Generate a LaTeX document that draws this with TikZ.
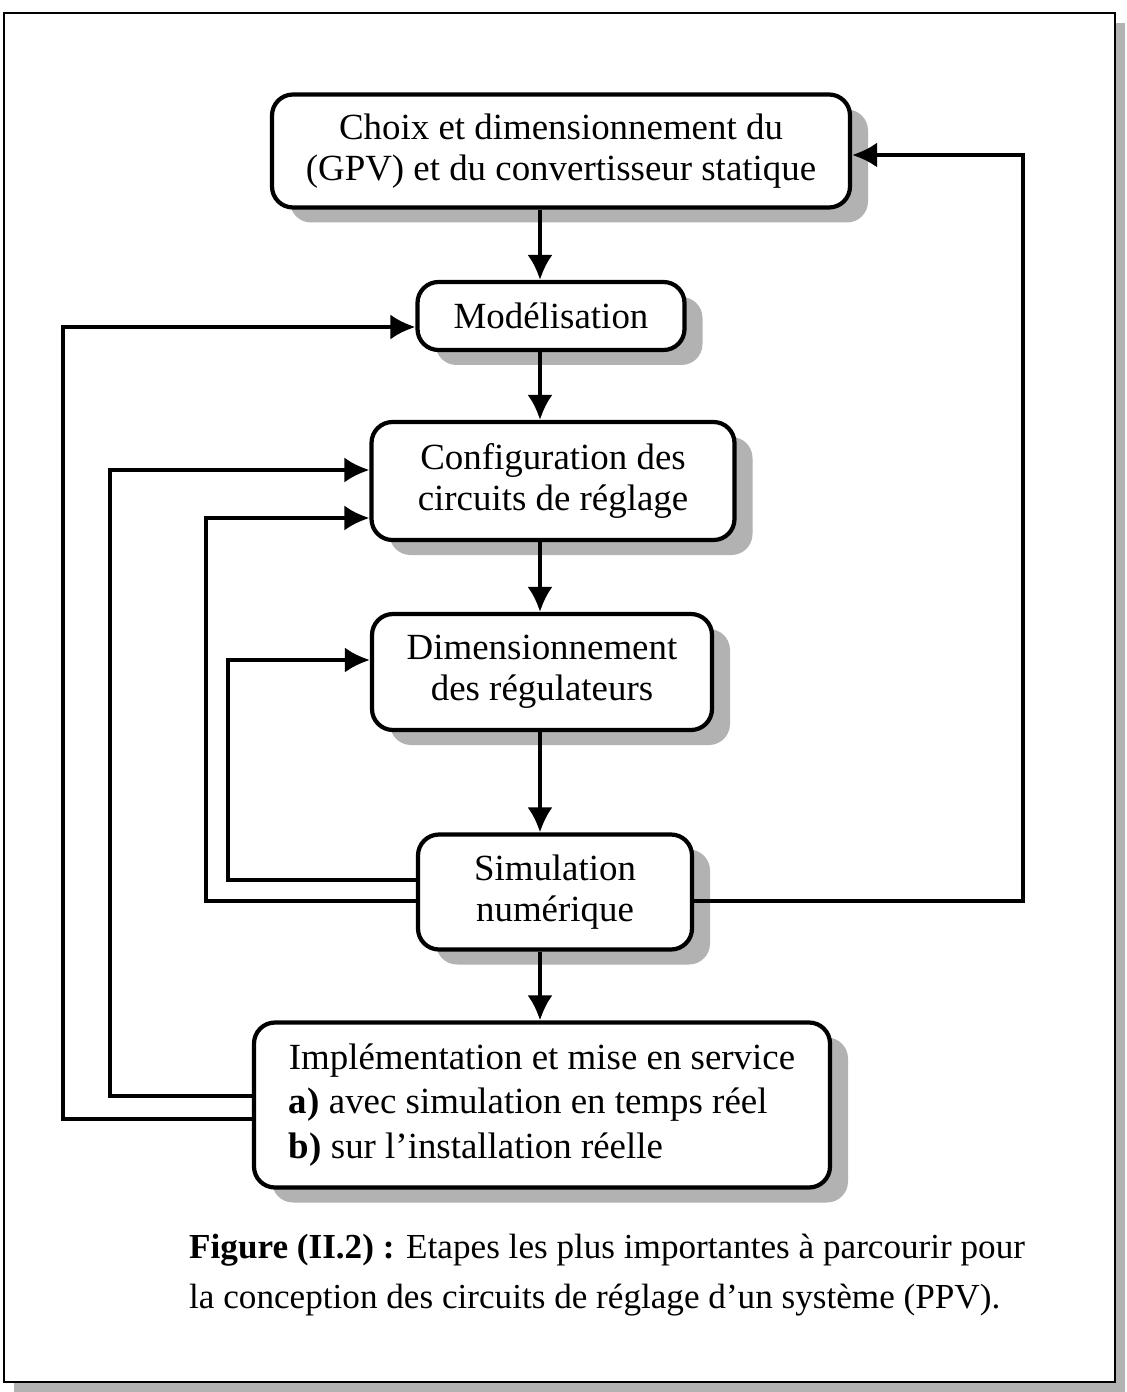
\documentclass[tikz,border=0pt]{standalone}
\usepackage{fontspec}
\setmainfont{Liberation Serif}
\usetikzlibrary{arrows.meta,positioning,shadows,calc}

\tikzset{
  ombre/.style={drop shadow={shadow xshift=0.36cm, shadow yshift=-0.3cm, fill=gray!60, opacity=1}},
  etape/.style={draw, line width=2.4pt, rounded corners=0.42cm, fill=white, align=center,
    inner sep=2pt, font=\fontsize{21}{23.3}\selectfont, ombre},
  fleche/.style={line width=2.1pt, -{Latex[length=5mm,width=5mm]}},
}

\begin{document}
\begin{tikzpicture}[node distance=3.3cm, on grid]
  \useasboundingbox (0,0) rectangle (22.52,-27.84);
  \node[draw, line width=1.3pt, fill=white, minimum width=22.22cm, minimum height=27.38cm,
    drop shadow={shadow xshift=0.2cm, shadow yshift=-0.2cm, fill=gray!60, opacity=1}]
    (cadre) at (11.19,-13.95) {};

  \node[etape, minimum width=11.56cm, minimum height=2.26cm] (b1) at (11.22,-3.02)
    {Choix et dimensionnement du\\(GPV) et du convertisseur statique};
  \node[etape, minimum width=5.34cm, minimum height=1.36cm, xshift=-0.2cm] (m) [below=3.3cm of b1] {Modélisation};
  \node[etape, minimum width=7.26cm, minimum height=2.36cm, xshift=0.04cm] (c) [below=3.3cm of m]
    {Configuration des\\circuits de réglage};
  \node[etape, minimum width=6.8cm, minimum height=2.32cm, xshift=-0.22cm] (d) [below=3.82cm of c]
    {Dimensionnement\\des régulateurs};
  \node[etape, minimum width=5.48cm, minimum height=2.3cm, xshift=0.26cm] (s) [below=4.4cm of d]
    {Simulation\\numérique};
  \node[etape, minimum width=11.52cm, minimum height=3.3cm, xshift=-0.26cm, align=left,
    font=\fontsize{21}{25.3}\selectfont] (i) [below=4.26cm of s]
    {Implémentation et mise en service\\\textbf{a)} avec simulation en temps réel\\\textbf{b)} sur l'installation réelle};

  \node[anchor=west, align=left, font=\fontsize{20}{28.5}\selectfont] (legende) at (3.66,-25.5)
    {\textbf{Figure (II.2) :} Etapes les plus importantes à parcourir pour\\
     la conception des circuits de réglage d'un système (PPV).};

  % axe et guides des retours
  \coordinate (axe) at (10.8,0);
  \coordinate (g1) at (4.56,-16);
  \coordinate (g2) at (4.12,-16);
  \coordinate (g3) at (2.2,-16);
  \coordinate (g4) at (1.26,-16);
  \coordinate (g5) at (20.46,-16);

  \foreach \a/\b in {b1/m, m/c, c/d, d/s, s/i}
    \draw[fleche] (\a.south -| axe) -- (\b.north -| axe);

  \coordinate (b1-in) at ([yshift=-0.08cm]b1.east);
  \coordinate (m-in) at ([yshift=-0.22cm]m.west);
  \coordinate (c-in1) at ([yshift=0.22cm]c.west);
  \coordinate (c-in2) at ([yshift=-0.74cm]c.west);
  \coordinate (d-in) at ([yshift=0.24cm]d.west);

  \draw[fleche] ([yshift=-0.18cm]s.east) -| (g5) |- (b1-in);
  \draw[fleche] ([yshift=0.24cm]s.west) -| (g1) |- (d-in);
  \draw[fleche] ([yshift=-0.18cm]s.west) -| (g2) |- (c-in2);
  \draw[fleche] ([yshift=0.18cm]i.west) -| (g3) |- (c-in1);
  \draw[fleche] ([yshift=-0.28cm]i.west) -| (g4) |- (m-in);
\end{tikzpicture}
\end{document}
